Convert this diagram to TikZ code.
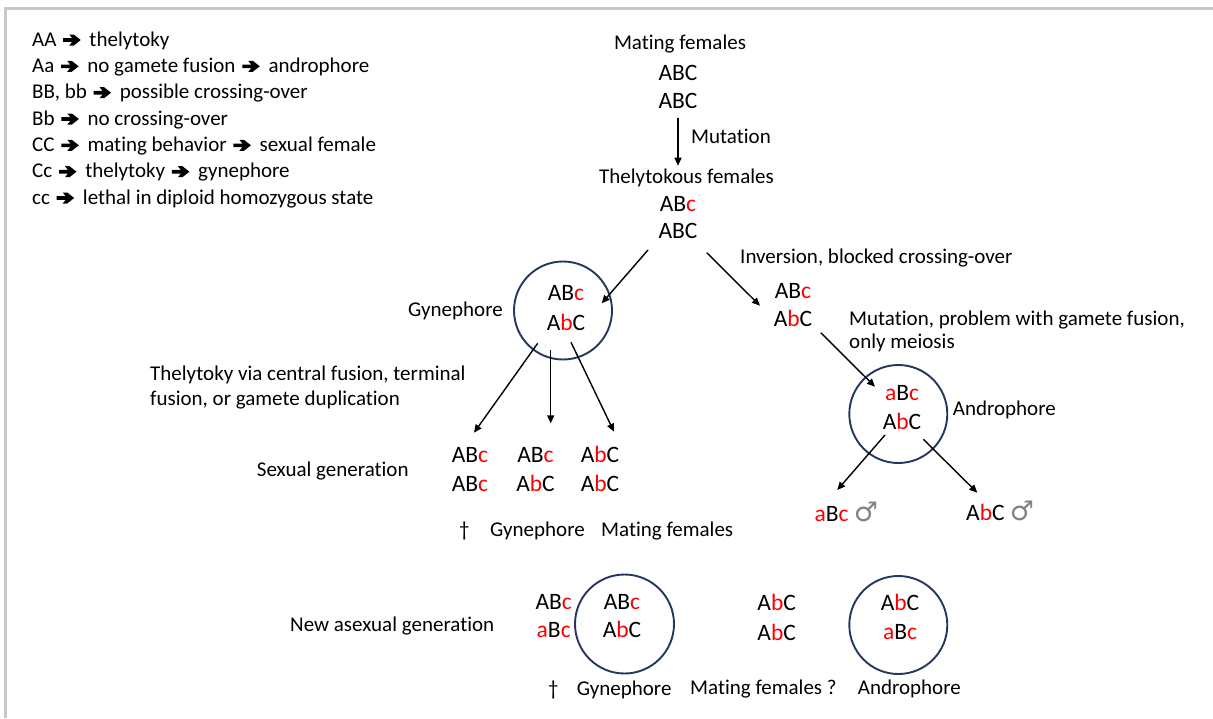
\documentclass[tikz,border=0pt]{standalone}
\usepackage{fontspec}
\setmainfont{Carlito}[Ligatures=NoCommon]
\newfontfamily\symfont{DejaVu Sans}
\usetikzlibrary{arrows.meta}
\definecolor{genred}{RGB}{255,0,0}
\definecolor{ringc}{RGB}{36,55,94}
\definecolor{framec}{RGB}{200,200,200}
\definecolor{malec}{RGB}{130,130,130}
\newcommand{\rd}[1]{\textcolor{genred}{#1}}
\newcommand{\harr}{\hspace{2pt}\tikz[baseline=0pt,x=1pt,y=1pt]\fill[black] (0,4.2)--(9,4.2)--(6,0.5)--(10.5,0.5)--(17.5,6)--(10.5,11.5)--(6,11.5)--(9,7.8)--(0,7.8)--cycle;\hspace{4pt}}
\newcommand{\malesym}{{\symfont\fontsize{27}{30}\selectfont\textcolor{malec}{♂}}}
\begin{document}
\begin{tikzpicture}[x=1pt,y=-1pt,
  lab/.style={inner sep=0pt, font=\fontsize{21}{25}\selectfont},
  lw/.style={lab, anchor=base west},
  lc/.style={lab, anchor=base},
  gen/.style={inner sep=0pt, anchor=base, font=\fontsize{23.5}{29}\selectfont},
  genw/.style={gen, anchor=base west},
  ring/.style={circle, draw=ringc, line width=1.9pt, minimum size=98pt, inner sep=0pt},
  arr/.style={-{Triangle[length=8pt,width=7pt]}, line width=1.4pt}]
\useasboundingbox (0,0) rectangle (1213,718);
\draw[framec, line width=2.2pt] (5.5,718) -- (5.5,8.5) -- (1213,8.5);

% legend
\node[lw] (lg1) at (32,46)    {AA \harr{} thelytoky};
\node[lw] (lg2) at (32,72.3)  {Aa \harr{} no gamete fusion \harr{} androphore};
\node[lw] (lg3) at (32,98.7)  {BB, bb \harr{} possible crossing-over};
\node[lw] (lg4) at (32,125)   {Bb \harr{} no crossing-over};
\node[lw] (lg5) at (32,151.3) {CC \harr{} mating behavior \harr{} sexual female};
\node[lw] (lg6) at (32,177.7) {Cc \harr{} thelytoky \harr{} gynephore};
\node[lw] (lg7) at (32,204)   {cc \harr{} lethal in diploid homozygous state};

% top column
\node[lc] (matlab) at (680,49.3) {Mating females};
\node[gen] (m1) at (678,80) {ABC};
\node[gen] (m2) at (678,108) {ABC};
\node[lw] (mutlab) at (691,143) {Mutation};
\node[lc] (thellab) at (686.5,183) {Thelytokous females};
\node[gen] (t1) at (678,211) {AB\rd{c}};
\node[gen] (t2) at (678,238) {ABC};

% gynephore
\node[ring] (gyne) at (563,310.5) {};
\node[gen] (g1) at (566,300) {AB\rd{c}};
\node[gen] (g2) at (566,330) {A\rd{b}C};
\node[lw] (gynelab) at (408,316) {Gynephore};
\node[lw] (thv1) at (150,380) {Thelytoky via central fusion, terminal};
\node[lw] (thv2) at (150,405.7) {fusion, or gamete duplication};

% inversion branch
\node[lw] (invlab) at (740,263) {Inversion, blocked crossing-over};
\node[gen] (i1) at (793,298) {AB\rd{c}};
\node[gen] (i2) at (793,326.7) {A\rd{b}C};
\node[lw] (mpl1) at (849,325) {Mutation, problem with gamete fusion,};
\node[lw] (mpl2) at (849,348.5) {only meiosis};

% androphore
\node[ring] (andro) at (898.3,414) {};
\node[gen] (a1) at (902,400) {\rd{a}B\rd{c}};
\node[gen] (a2) at (902,429.3) {A\rd{b}C};
\node[lw] (androlab) at (952.7,415) {Androphore};
\node[genw] (male1) at (814.3,521.7) {\rd{a}B\rd{c} \malesym};
\node[genw] (male2) at (966,520.7) {A\rd{b}C \malesym};

% sexual generation
\node[lw] (sexlab) at (256.7,476.7) {Sexual generation};
\node[gen] (s11) at (470,462.3) {AB\rd{c}};
\node[gen] (s12) at (470,491.7) {AB\rd{c}};
\node[gen] (s21) at (535.5,462.3) {AB\rd{c}};
\node[gen] (s22) at (535.5,491.7) {A\rd{b}C};
\node[gen] (s31) at (600,462.3) {A\rd{b}C};
\node[gen] (s32) at (600,491.7) {A\rd{b}C};
\node[lc] (dag1) at (464.3,536.7) {†};
\node[lw] (sgyn) at (490,536.7) {Gynephore};
\node[lw] (smat) at (601,536.7) {Mating females};

% new asexual generation
\node[lw] (asexlab) at (290,631.7) {New asexual generation};
\node[gen] (n11) at (553.7,609.3) {AB\rd{c}};
\node[gen] (n12) at (553.7,637.7) {\rd{a}B\rd{c}};
\node[ring, minimum size=99pt] (gyne2) at (624.5,624) {};
\node[gen] (n21) at (622,609.3) {AB\rd{c}};
\node[gen] (n22) at (622,637.7) {A\rd{b}C};
\node[gen] (n31) at (776.7,610.5) {A\rd{b}C};
\node[gen] (n32) at (776.7,640) {A\rd{b}C};
\node[ring] (andro2) at (898.3,625) {};
\node[gen] (n41) at (900,610) {A\rd{b}C};
\node[gen] (n42) at (900,639) {\rd{a}B\rd{c}};
\node[lc] (dag2) at (553.3,695) {†};
\node[lw] (ngyn) at (576.7,695) {Gynephore};
\node[lw] (nmat) at (690,694.3) {Mating females ?};
\node[lw] (nand) at (857.7,694) {Androphore};

% arrow end points
\coordinate (e1s) at (678,118);     \coordinate (e1t) at (678,165.7);
\coordinate (e2s) at (648,250);     \coordinate (e2t) at (601.7,303.3);
\coordinate (e3s) at (706.7,252.7); \coordinate (e3t) at (760,305.7);
\coordinate (e4s) at (537.7,343.3); \coordinate (e4t) at (474,432.7);
\coordinate (e5s) at (550.7,350);   \coordinate (e5t) at (550.7,423.3);
\coordinate (e6s) at (571,342.3);   \coordinate (e6t) at (614,431.7);
\coordinate (e7s) at (820.7,332.7); \coordinate (e7t) at (875,386.7);
\coordinate (e8s) at (885,435);     \coordinate (e8t) at (837.3,490);
\coordinate (e9s) at (923.3,439.3); \coordinate (e9t) at (977.3,492.7);

\draw[arr] (e1s) -- (e1t);
\draw[arr] (e2s) -- (e2t);
\draw[arr] (e3s) -- (e3t);
\draw[arr] (e4s) -- (e4t);
\draw[arr] (e5s) -- (e5t);
\draw[arr] (e6s) -- (e6t);
\draw[arr] (e7s) -- (e7t);
\draw[arr] (e8s) -- (e8t);
\draw[arr] (e9s) -- (e9t);
\end{tikzpicture}
\end{document}
